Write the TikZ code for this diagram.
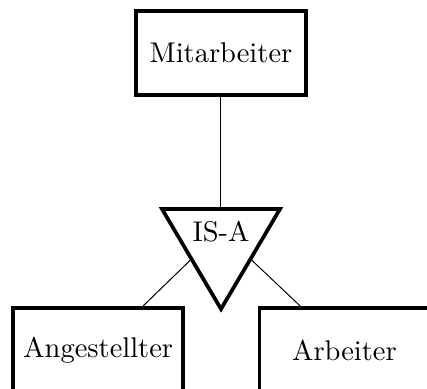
\documentclass[tikz,border=0pt]{standalone}
\usetikzlibrary{calc}
\begin{document}
\begin{tikzpicture}[x=0.351pt,y=-0.351pt,
    entity/.style={draw,line width=1.3pt,minimum width=59.7pt,minimum height=29.7pt},
    link/.style={line width=0.35pt}]
  \clip (0,0) rectangle (427,389);
  % entities
  \node[entity] (mit) at (221,53) {Mitarbeiter};
  \node[entity] (ang) at (98.25,350) {Angestellter};
  \node[entity] (arb) at (344.5,350) {Arbeiter};
  % IS-A triangle
  \coordinate (tl) at (162,209);
  \coordinate (tr) at (280,209);
  \coordinate (tb) at (221,309);
  \draw[line width=1.3pt] (tl) -- (tr) -- (tb) -- cycle;
  \node (isa) at (221,232) {IS-A};
  \coordinate (ls) at ($(tl)!0.5!(tb)$);
  \coordinate (rs) at ($(tr)!0.5!(tb)$);
  \draw[link] (mit.south) -- (mit.south |- tl);
  \draw[link] (ls) -- ($(ang.north)+(45,0)$);
  \draw[link] (rs) -- ($(arb.north)+(-44.5,0)$);
\end{tikzpicture}
\end{document}
